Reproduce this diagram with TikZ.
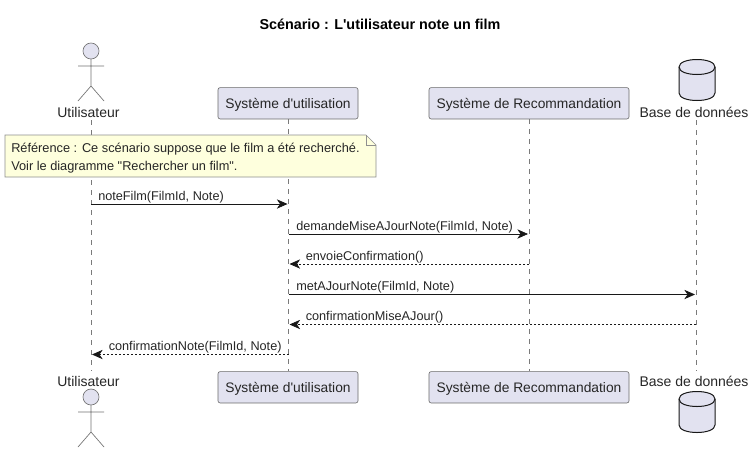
\documentclass[tikz,border=0pt]{standalone}
\usepackage{fontspec}
\setmainfont{Liberation Sans}[Ligatures=TeXOff]
\usetikzlibrary{arrows.meta,calc}
\definecolor{partfill}{HTML}{E2E2F0}
\definecolor{partline}{HTML}{181818}
\definecolor{notefill}{HTML}{FEFFDD}
\definecolor{noteline}{HTML}{8F8F8F}
\definecolor{lifeline}{HTML}{7A7A7A}
\newcommand{\pxfont}[1]{\fontsize{#1}{#1}\selectfont}
\newcommand{\actorfig}[2]{%
  \draw[actorline,fill=partfill] (#1,#2) circle (8);
  \draw[actorline] (#1,#2+8) -- (#1,#2+35) (#1-13,#2+15) -- (#1+13,#2+15)
    (#1-13,#2+50) -- (#1,#2+35) -- (#1+13,#2+50);}
\newcommand{\dbfig}[2]{%
  \draw[dbline,fill=partfill,rounded corners=0pt] (#1-18,#2+10)
    .. controls (#1-18,#2) and (#1+18,#2) .. (#1+18,#2+10)
    -- (#1+18,#2+36)
    .. controls (#1+18,#2+46) and (#1-18,#2+46) .. (#1-18,#2+36) -- cycle;
  \draw[dbline] (#1-18,#2+10) .. controls (#1-18,#2+20) and (#1+18,#2+20) .. (#1+18,#2+10);}
\tikzset{
  x=0.75pt,y=-0.75pt,
  partbox/.style={draw=partline!65,fill=partfill,rounded corners=1.6pt,line width=0.45pt,
    minimum height=23.5pt,inner sep=0pt,font=\pxfont{10.35},text=black!85,
    text height=9pt,text depth=0.6pt},
  plainlabel/.style={inner sep=0pt,font=\pxfont{10.5},text=black!85},
  msg/.style={inner sep=0pt,anchor=base west,font=\pxfont{9.52},text=black!85},
  lifedash/.style={draw=lifeline,line width=0.4pt,dash pattern=on 3.75pt off 3.75pt},
  call/.style={draw=partline,line width=0.55pt,-{Stealth[length=8pt,width=7pt,inset=2.4pt]}},
  reply/.style={draw=partline,line width=0.55pt,dash pattern=on 1.5pt off 1.5pt,-{Stealth[length=8pt,width=7pt,inset=2.4pt]}},
  actorline/.style={draw=black!55,line width=0.5pt},
  dbline/.style={draw=partline,line width=0.75pt},
  notebody/.style={draw=noteline,fill=notefill,line width=0.5pt},
  notetext/.style={inner sep=0pt,anchor=base west,font=\pxfont{9.58},text=black!85}
}
\begin{document}
\begin{tikzpicture}
\useasboundingbox[fill=white] (0,0) rectangle (756,454);
\node[inner sep=0pt,font=\pxfont{10.77}\bfseries] (title) at (380,24) {Scénario : L'utilisateur note un film};
% head participants
\node[plainlabel] (uT) at (88.5,112) {Utilisateur};
\node[partbox,minimum width=105pt] (sT) at (288,103.3) {Système d'utilisation};
\node[partbox,minimum width=150pt] (rT) at (529,103.3) {Système de Recommandation};
\node[plainlabel] (dT) at (694,112) {Base de données};
% foot participants
\node[plainlabel] (uB) at (88.5,381) {Utilisateur};
\node[partbox,minimum width=105pt] (sB) at (288,387.3) {Système d'utilisation};
\node[partbox,minimum width=150pt] (rB) at (529,387.3) {Système de Recommandation};
\node[plainlabel] (dB) at (694,381) {Base de données};
% lifeline ends
\coordinate (uTop) at (91,120); \coordinate (uBot) at (91,371);
\coordinate (dTop) at (696,120); \coordinate (dBot) at (696,371);
\draw[lifedash] (uTop) -- (uBot);
\draw[lifedash] (sT.south) -- (sB.north);
\draw[lifedash] (rT.south) -- (rB.north);
\draw[lifedash] (dTop) -- (dBot);
% figures
\actorfig{91}{51}
\actorfig{91}{397}
\dbfig{697}{57}
\dbfig{697}{389}
% note
\draw[notebody] (5,135) -- (366,135) -- (376,145) -- (376,177) -- (5,177) -- cycle;
\draw[notebody,fill=none] (366,135) -- (366,145) -- (376,145);
\node[notetext] (n1) at (11,152) {Référence : Ce scénario suppose que le film a été recherché.};
\node[notetext] (n2) at (11,170) {Voir le diagramme "Rechercher un film".};
% messages
\coordinate (m1a) at (91,204);   \coordinate (m1b) at (287.5,204);
\coordinate (m2a) at (288.5,234); \coordinate (m2b) at (528,234);
\coordinate (m3a) at (529,264);  \coordinate (m3b) at (289.5,264);
\coordinate (m4a) at (288.5,294.5); \coordinate (m4b) at (695,294.5);
\coordinate (m5a) at (696,324.5); \coordinate (m5b) at (289.5,324.5);
\coordinate (m6a) at (288.5,354.5); \coordinate (m6b) at (92,354.5);
\draw[call] (m1a) -- (m1b);
\draw[call] (m2a) -- (m2b);
\draw[reply] (m3a) -- (m3b);
\draw[call] (m4a) -- (m4b);
\draw[reply] (m5a) -- (m5b);
\draw[reply] (m6a) -- (m6b);
\node[msg] (l1) at (98,200) {noteFilm(FilmId, Note)};
\node[msg] (l2) at (296,230) {demandeMiseAJourNote(FilmId, Note)};
\node[msg] (l3) at (305.5,260) {envoieConfirmation()};
\node[msg] (l4) at (296,290) {metAJourNote(FilmId, Note)};
\node[msg] (l5) at (305.5,320) {confirmationMiseAJour()};
\node[msg] (l6) at (108.5,350) {confirmationNote(FilmId, Note)};
\end{tikzpicture}
\end{document}
